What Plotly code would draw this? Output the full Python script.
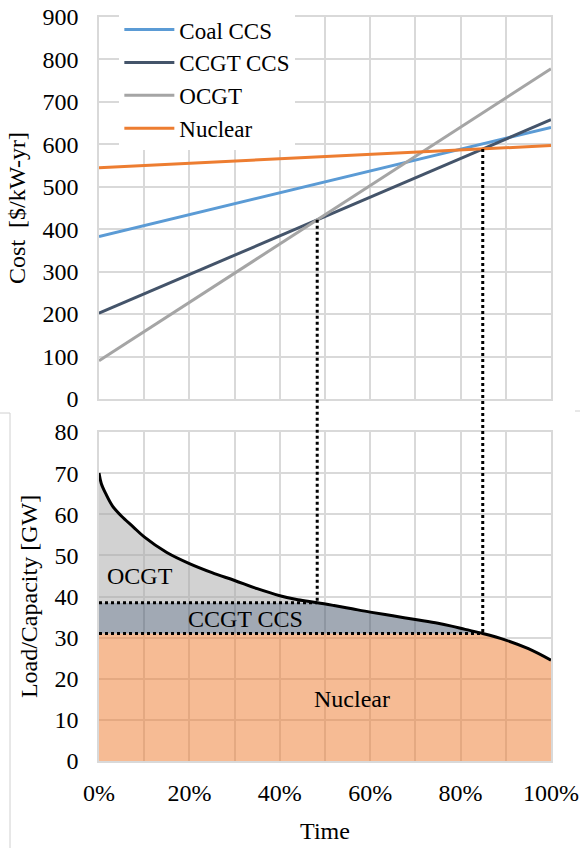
import plotly.graph_objects as go

# ---- data -------------------------------------------------------------
technologies = ["Coal CCS", "CCGT CCS", "OCGT", "Nuclear"]
cost_at_0 = [383, 202, 90, 545]        # $/kW-yr at 0 % running time
cost_at_100 = [640, 658, 778, 597]     # $/kW-yr at 100 % running time
line_colors = ["#5B9BD5", "#44546A", "#A5A5A5", "#ED7D31"]

time_pct = [0, 0.5, 1.5, 3, 5, 7.5, 10, 15, 20, 25, 30, 35, 40, 44, 48.3,
            52, 56, 60, 65, 70, 75, 78, 81, 84.9, 90, 95, 100]
load_gw = [70, 67.5, 65, 62, 59.5, 57, 54.5, 50.7, 48, 45.8, 43.9, 41.9, 40.2,
           39.2, 38.5, 37.8, 37.0, 36.2, 35.3, 34.4, 33.5, 32.8, 32, 31.0,
           29.4, 27.3, 24.5]

ccgt_top = 38.5      # GW: OCGT serves load above this level
nuclear_top = 31.0   # GW: CCGT CCS serves load between nuclear_top and ccgt_top

x_ticks = [0, 10, 20, 30, 40, 50, 60, 70, 80, 90, 100]
x_ticktext = ["0%", "", "20%", "", "40%", "", "60%", "", "80%", "", "100%"]

# ---- layout geometry --------------------------------------------------
W, H = 580, 848
ML, MR, MT, MB = 99, 29, 17, 87
top_dom = [0.4866, 1.0]
bot_dom = [0.0, 0.4422]
cost_range = [0, 900]
load_range = [0, 80]

FONT = "Liberation Serif"
GRID = "#D9D9D9"


def paper_top(v):
    return top_dom[0] + (v - cost_range[0]) / (cost_range[1] - cost_range[0]) * (top_dom[1] - top_dom[0])


def paper_bot(v):
    return bot_dom[0] + (v - load_range[0]) / (load_range[1] - load_range[0]) * (bot_dom[1] - bot_dom[0])


def crossing(i, j):
    s_i = cost_at_100[i] - cost_at_0[i]
    s_j = cost_at_100[j] - cost_at_0[j]
    t = (cost_at_0[j] - cost_at_0[i]) / (s_i - s_j)
    return 100 * t, cost_at_0[i] + s_i * t


fig = go.Figure()

# ---- screening curves -------------------------------------------------
for name, c0, c1, col in zip(technologies, cost_at_0, cost_at_100, line_colors):
    fig.add_trace(go.Scatter(x=[0, 100], y=[c0, c1], mode="lines", name=name,
                             line=dict(color=col, width=3),
                             xaxis="x", yaxis="y"))

# ---- load duration curve split by technology -------------------------
nuc = [min(v, nuclear_top) for v in load_gw]
ccgt = [min(v, ccgt_top) for v in load_gw]
fig.add_trace(go.Scatter(x=time_pct, y=nuc, mode="lines", fill="tozeroy",
                         fillcolor="rgba(237,125,49,0.52)", line=dict(width=0),
                         showlegend=False, hoverinfo="skip", xaxis="x2", yaxis="y2"))
fig.add_trace(go.Scatter(x=time_pct, y=ccgt, mode="lines", fill="tonexty",
                         fillcolor="rgba(68,84,106,0.5)", line=dict(width=0),
                         showlegend=False, hoverinfo="skip", xaxis="x2", yaxis="y2"))
fig.add_trace(go.Scatter(x=time_pct, y=load_gw, mode="lines", fill="tonexty",
                         fillcolor="rgba(165,165,165,0.5)", line=dict(width=0),
                         showlegend=False, hoverinfo="skip", xaxis="x2", yaxis="y2"))
fig.add_trace(go.Scatter(x=time_pct, y=load_gw, mode="lines",
                         line=dict(color="black", width=3, shape="spline"),
                         showlegend=False, xaxis="x2", yaxis="y2"))

# ---- dotted guides ----------------------------------------------------
t1, c1 = crossing(1, 2)   # CCGT CCS vs OCGT
t2, c2 = crossing(1, 3)   # CCGT CCS vs Nuclear
dot = dict(color="black", width=3, dash="dot")
shapes = []
for t, c, lvl in [(t1, c1, ccgt_top), (t2, c2, nuclear_top)]:
    shapes.append(dict(type="line", xref="x", yref="paper", x0=t, x1=t,
                       y0=paper_top(c), y1=paper_bot(lvl), line=dot, layer="above"))
    shapes.append(dict(type="line", xref="x2", yref="y2", x0=0, x1=t,
                       y0=lvl, y1=lvl, line=dot, layer="above"))

# faint frame edges of the lower panel
edge = dict(color="#D0D0D0", width=1)
px = lambda p: (p - ML) / (W - ML - MR)
py = lambda p: (H - MB - p) / (H - MT - MB)
shapes.append(dict(type="line", xref="paper", yref="paper", x0=px(0), x1=px(10),
                   y0=py(413), y1=py(413), line=edge))
shapes.append(dict(type="line", xref="paper", yref="paper", x0=px(10), x1=px(10),
                   y0=py(413), y1=py(848), line=edge))
shapes.append(dict(type="line", xref="paper", yref="paper", x0=px(575), x1=px(580),
                   y0=py(411), y1=py(411), line=edge))

annotations = [
    dict(x=9, y=45, xref="x2", yref="y2", text="OCGT", showarrow=False,
         font=dict(family=FONT, size=24, color="black")),
    dict(x=32.5, y=34.6, xref="x2", yref="y2", text="CCGT CCS", showarrow=False,
         font=dict(family=FONT, size=24, color="black")),
    dict(x=56, y=15, xref="x2", yref="y2", text="Nuclear", showarrow=False,
         font=dict(family=FONT, size=24, color="black")),
]

axis_common = dict(showgrid=True, gridcolor=GRID, gridwidth=1.5, showline=True,
                   linecolor=GRID, linewidth=1.5, mirror=True, zeroline=False,
                   automargin=False,
                   tickfont=dict(family=FONT, size=24, color="black"), ticks="")

fig.update_layout(
    width=W, height=H,
    margin=dict(l=ML, r=MR, t=MT, b=MB, autoexpand=False),
    paper_bgcolor="white", plot_bgcolor="white",
    font=dict(family=FONT, size=24, color="black"),
    xaxis=dict(domain=[0, 1], range=[0, 100], anchor="y", tickvals=x_ticks,
               showticklabels=False, **axis_common),
    yaxis=dict(domain=top_dom, range=cost_range, anchor="x", dtick=100,
               ticklabelstandoff=14,
               title=dict(text="Cost  [$/kW-yr]", standoff=10,
                          font=dict(family=FONT, size=24)), **axis_common),
    xaxis2=dict(domain=[0, 1], range=[0, 100], anchor="y2", tickvals=x_ticks,
                ticktext=x_ticktext, ticklabelstandoff=9,
                title=dict(text="Time", standoff=18, font=dict(family=FONT, size=24)),
                **axis_common),
    yaxis2=dict(domain=bot_dom, range=load_range, anchor="x2", dtick=10,
                ticklabelstandoff=14,
                title=dict(text="Load/Capacity [GW]", standoff=10,
                           font=dict(family=FONT, size=24)), **axis_common),
    legend=dict(x=0.045, y=1.012, xanchor="left", yanchor="top",
                bgcolor="white", borderwidth=0, traceorder="normal",
                font=dict(family=FONT, size=23, color="black"),
                tracegroupgap=0, itemwidth=50),
    shapes=shapes,
    annotations=annotations,
    showlegend=True,
)

fig.write_html("out.html")
